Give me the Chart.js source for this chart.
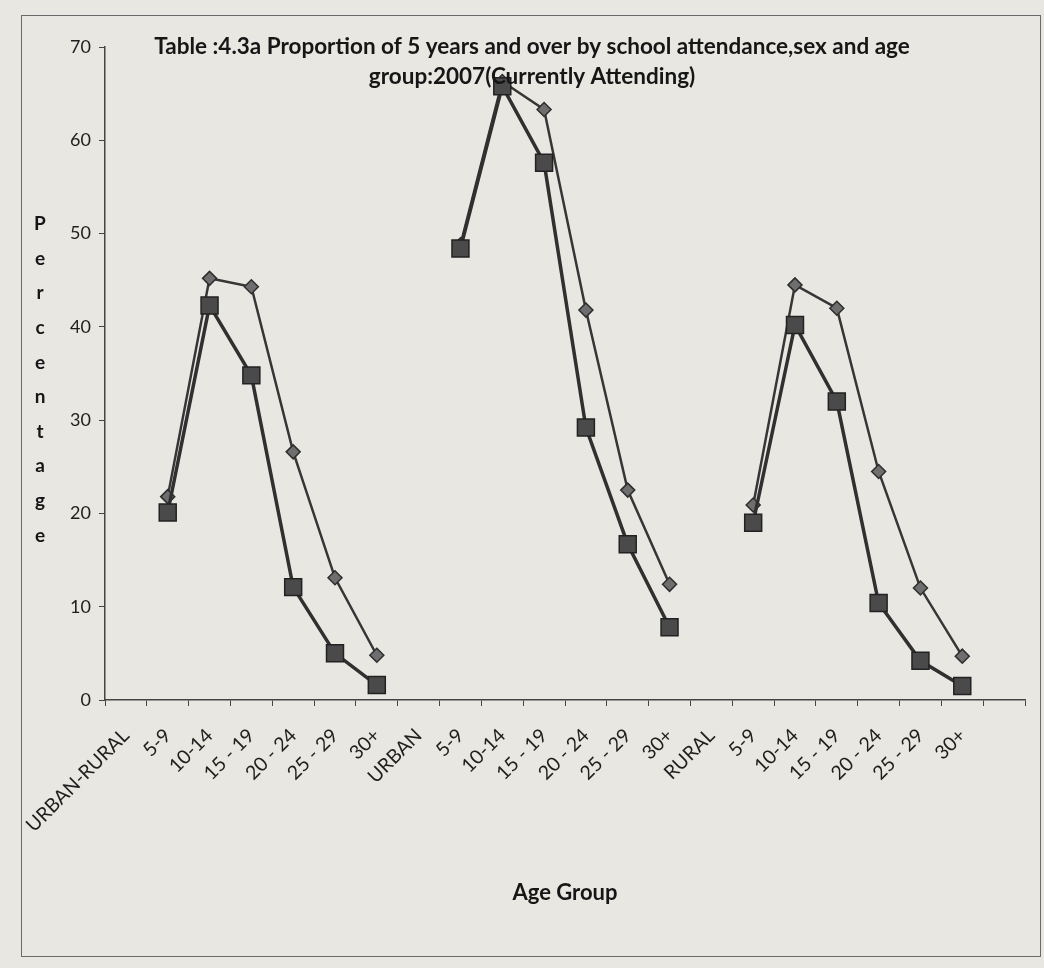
<!DOCTYPE html>
<html>
<head>
<meta charset="utf-8">
<script src="https://cdn.jsdelivr.net/npm/chart.js@4/dist/chart.umd.min.js"></script>
<style>
    body { margin: 0; background: #e8e7e2; }
    #wrap { position: relative; width: 1044px; height: 968px; }
    #frame { position: absolute; left: 21px; top: 15px; width: 1018px; height: 940px; border: 1px solid #6a6a6a; pointer-events: none; }
</style>
</head>
<body>
<div id="wrap">
    <canvas id="grafico"></canvas>
    <div id="frame"></div>
</div>
<script>
// Dados
const categorias = ['URBAN-RURAL', '5-9', '10-14', '15 - 19', '20 - 24', '25 - 29', '30+',
    'URBAN', '5-9', '10-14', '15 - 19', '20 - 24', '25 - 29', '30+',
    'RURAL', '5-9', '10-14', '15 - 19', '20 - 24', '25 - 29', '30+', ''];
const masculino = [null, 21.8, 45.2, 44.3, 26.6, 13.1, 4.8,
    null, 48.8, 66.3, 63.3, 41.8, 22.5, 12.4,
    null, 20.9, 44.5, 42.0, 24.5, 12.0, 4.7, null];
const feminino = [null, 20.1, 42.3, 34.8, 12.1, 5.0, 1.6,
    null, 48.4, 65.8, 57.6, 29.2, 16.7, 7.8,
    null, 19.0, 40.2, 32.0, 10.4, 4.2, 1.5, null];
const tituloLinhas = ['Table :4.3a Proportion of 5 years and over by school attendance,sex and age',
    'group:2007(Currently Attending)'];
const eixoYLetras = ['P', 'e', 'r', 'c', 'e', 'n', 't', 'a', 'g', 'e'];

const FONTE = 'Lato, "Open Sans", sans-serif';

// Título e rótulo vertical desenhados dentro da área
const decorPlugin = {
    id: 'decor',
    afterDraw(chart) {
        const ctx = chart.ctx;
        ctx.save();
        ctx.fillStyle = '#161616';
        ctx.textAlign = 'center';
        ctx.textBaseline = 'middle';
        ctx.font = 'bold 22.5px ' + FONTE;
        tituloLinhas.forEach((t, i) => ctx.fillText(t, 532, 47 + i * 30));
        ctx.font = 'bold 19px ' + FONTE;
        eixoYLetras.forEach((l, i) => ctx.fillText(l, 40, 224 + i * 34.6));
        ctx.restore();
    }
};

const ctx = document.getElementById('grafico');
new Chart(ctx, {
    type: 'line',
    data: {
        labels: categorias,
        datasets: [
            {
                label: 'Female',
                data: feminino,
                order: 0,
                borderColor: '#303030',
                borderWidth: 3.5,
                backgroundColor: '#4a4a4a',
                pointStyle: 'rect',
                pointRadius: 12,
                pointBorderColor: '#222222',
                pointBorderWidth: 1.5,
                tension: 0
            },
            {
                label: 'Male',
                data: masculino,
                order: 1,
                borderColor: '#363636',
                borderWidth: 2.5,
                backgroundColor: '#6e6e6e',
                pointStyle: 'rectRot',
                pointRadius: 7,
                pointBorderColor: '#2e2e2e',
                pointBorderWidth: 1.5,
                tension: 0
            }
        ]
    },
    options: {
        responsive: true,
        maintainAspectRatio: false,
        animation: false,
        layout: {
            padding: { top: 47, right: 19, left: 0, bottom: 0 }
        },
        plugins: {
            legend: { display: false },
            title: { display: false },
            tooltip: { enabled: false }
        },
        scales: {
            x: {
                offset: true,
                afterFit: (scale) => { scale.height = 268; },
                border: { display: true, color: '#444', width: 1.5 },
                grid: { display: true, drawOnChartArea: false, drawTicks: true, tickLength: 6, color: '#444', offset: true },
                ticks: {
                    autoSkip: false,
                    maxRotation: 45,
                    minRotation: 45,
                    padding: 18,
                    color: '#1e1e1e',
                    font: { family: FONTE, size: 19.5 }
                },
                title: {
                    display: true,
                    text: 'Age Group',
                    color: '#161616',
                    font: { family: FONTE, size: 22, weight: 'bold' },
                    padding: { top: 0, bottom: 62 }
                }
            },
            y: {
                min: 0,
                max: 70,
                afterFit: (scale) => { scale.width = 105; },
                border: { display: true, color: '#444', width: 1.5 },
                grid: { display: true, drawOnChartArea: false, drawTicks: true, tickLength: 6, color: '#444' },
                ticks: {
                    stepSize: 10,
                    padding: 8,
                    color: '#1e1e1e',
                    font: { family: FONTE, size: 18 }
                }
            }
        }
    },
    plugins: [decorPlugin]
});
</script>
</body>
</html>
